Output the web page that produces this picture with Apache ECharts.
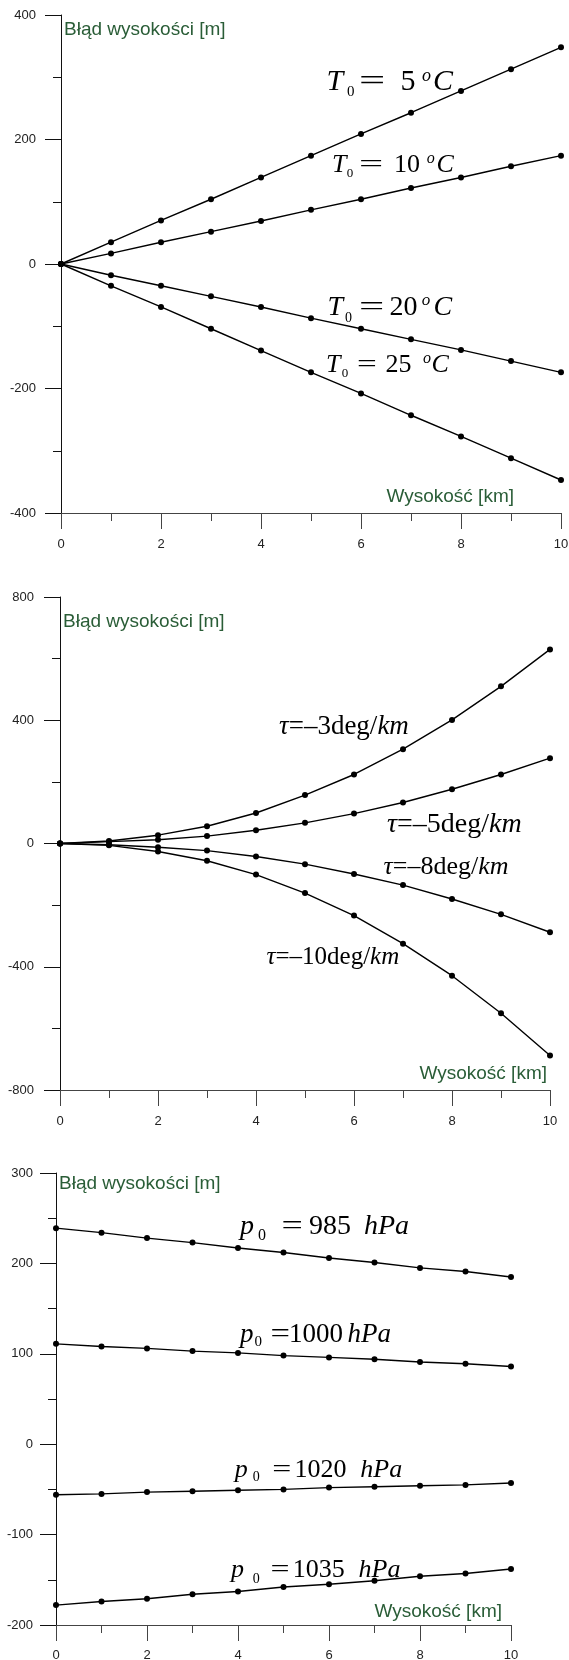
<!DOCTYPE html>
<html>
<head>
<meta charset="utf-8">
<script src="https://cdn.jsdelivr.net/npm/echarts@6/dist/echarts.min.js"></script>
<style>
  html, body { margin: 0; padding: 0; background: #fff; }
  #chart { width: 569px; height: 1660px; }
</style>
</head>
<body>
<div id="chart"></div>
<script>
// wysokość [km]
var km = [0, 1, 2, 3, 4, 5, 6, 7, 8, 9, 10];

// wykres 1 - temperatura T0
var t5 = [0, 35, 70, 104, 139, 174, 209, 243, 278, 313, 348];
var t10 = [0, 17, 35, 52, 69, 87, 104, 122, 139, 157, 174];
var t20 = [0, -18, -35, -52, -69, -87, -104, -121, -138, -156, -174];
var t25 = [0, -35, -69, -104, -139, -174, -208, -243, -277, -312, -347];

// wykres 2 - gradient tau
var tau3 = [0, 8, 27, 56, 99, 157, 224, 306, 401, 510, 630];
var tau5 = [0, 6, 12, 24, 43, 67, 97, 133, 176, 224, 277];
var tau8 = [0, -4, -12, -23, -42, -67, -99, -135, -180, -230, -288];
var tau10 = [0, -6, -26, -56, -101, -161, -234, -325, -429, -551, -688];

// wykres 3 - cisnienie p0
var p985 = [239, 234, 228, 223, 217, 212, 206, 201, 195, 191, 185];
var p1000 = [111, 108, 106, 103, 101, 98, 96, 94, 91, 89, 86];
var p1020 = [-56, -55, -53, -52, -51, -50, -48, -47, -46, -45, -43];
var p1035 = [-178, -174, -171, -166, -163, -158, -155, -151, -146, -143, -138];

// zakresy osi y: [min, max, krok]
var yRange1 = [-400, 400, 200];
var yRange2 = [-800, 800, 400];
var yRange3 = [-200, 300, 100];

var GREEN = '#2a5d37';
var SANS = '"Liberation Sans", Arial, sans-serif';
var SERIF = '"Liberation Serif", "Times New Roman", serif';

var myChart = echarts.init(document.getElementById('chart'));

function xAxisCfg(idx, nameGap, namePad, margin) {
    return {
        type: 'value',
        gridIndex: idx,
        min: 0,
        max: 10,
        interval: 2,
        name: 'Wysokość [km]',
        nameLocation: 'end',
        nameGap: nameGap,
        nameTextStyle: {
            color: GREEN,
            fontSize: 19,
            fontFamily: SANS,
            align: 'right',
            verticalAlign: 'bottom',
            padding: [0, 0, namePad, 0],
        },
        axisLine: { show: true, onZero: false, lineStyle: { color: '#444', width: 1 } },
        axisTick: { show: true, length: 16, lineStyle: { color: '#444' } },
        minorTick: { show: true, splitNumber: 2, length: 8, lineStyle: { color: '#444' } },
        axisLabel: { color: '#222', fontSize: 13, fontFamily: SANS, margin: margin },
        splitLine: { show: false },
        minorSplitLine: { show: false },
    }
}

function yAxisCfg(idx, range, nameGap, margin) {
    return {
        type: 'value',
        gridIndex: idx,
        min: range[0],
        max: range[1],
        interval: range[2],
        name: 'Błąd wysokości [m]',
        nameLocation: 'end',
        nameGap: nameGap,
        nameTextStyle: {
            color: GREEN,
            fontSize: 19,
            fontFamily: SANS,
            align: 'left',
            verticalAlign: 'top',
            padding: [0, 0, 0, 3],
        },
        axisLine: { show: true, onZero: false, lineStyle: { color: '#111', width: 1 } },
        axisTick: { show: true, length: 16, lineStyle: { color: '#111' } },
        minorTick: { show: true, splitNumber: 2, length: 8, lineStyle: { color: '#111' } },
        axisLabel: { color: '#222', fontSize: 13, fontFamily: SANS, margin: margin },
        splitLine: { show: false },
        minorSplitLine: { show: false },
    }
}

function lineSeries(idx, vals) {
    return {
        type: 'line',
        xAxisIndex: idx,
        yAxisIndex: idx,
        data: km.map(function (k, i) { return [k, vals[i]] }),
        symbol: 'circle',
        symbolSize: 6,
        lineStyle: { color: '#000', width: 1.4 },
        itemStyle: { color: '#000' },
        silent: true,
        z: 3,
    }
}

// kawalek opisu (tekst matematyczny)
function piece(text, x, y, size, italic, sx) {
    return {
        type: 'text',
        x: x,
        y: y,
        scaleX: sx || 1,
        silent: true,
        z: 10,
        style: {
            text: text,
            fill: '#000',
            font: (italic ? 'italic ' : '') + size + 'px ' + SERIF,
            align: 'left',
            verticalAlign: 'middle',
        },
    }
}

function tauLabel(num, x, y, size) {
    return {
        type: 'text',
        x: x,
        y: y,
        silent: true,
        z: 10,
        style: {
            text: '{i|τ}{n|=–' + num + 'deg/}{i|km}',
            align: 'left',
            verticalAlign: 'middle',
            rich: {
                i: { font: 'italic ' + size + 'px ' + SERIF, fill: '#000' },
                n: { font: size + 'px ' + SERIF, fill: '#000' },
            },
        },
    }
}

var graphics = [
    // T0 = 5 C
    piece('T', 326.5, 81.7, 30, true),
    piece('0', 347, 91.7, 15),
    piece('=', 359, 81.7, 30, false, 1.55),
    piece('5', 400.5, 81.7, 30),
    piece('o', 422, 76, 18, true),
    piece('C', 433, 81.7, 30, true),
    // T0 = 10 C
    piece('T', 332, 164.7, 26, true),
    piece('0', 346.7, 173.7, 13),
    piece('=', 359, 164.7, 26, false, 1.65),
    piece('10', 394, 164.7, 26),
    piece('o', 426.7, 158.5, 16, true),
    piece('C', 436.5, 164.7, 26, true),
    // T0 = 20 C
    piece('T', 327.5, 307.3, 28, true),
    piece('0', 345, 318, 14),
    piece('=', 359, 307.3, 28, false, 1.6),
    piece('20', 389.5, 307.3, 28),
    piece('o', 421.7, 301, 17, true),
    piece('C', 433.5, 307.3, 28, true),
    // T0 = 25 C
    piece('T', 326, 364.7, 26, true),
    piece('0', 341.7, 373.7, 13),
    piece('=', 357, 364.7, 26, false, 1.35),
    piece('25', 385.5, 364.7, 26),
    piece('o', 423, 359, 16, true),
    piece('C', 431.5, 364.7, 26, true),

    tauLabel('3', 279, 726.5, 27),
    tauLabel('5', 387, 824.5, 28),
    tauLabel('8', 383.5, 867.5, 26),
    tauLabel('10', 266.5, 957.5, 25),

    // p0 = 985 hPa
    piece('p', 240, 1227, 28, true),
    piece('0', 258, 1236.2, 16),
    piece('=', 281.5, 1227, 28, false, 1.35),
    piece('985', 309, 1227, 28),
    piece('hPa', 364, 1227, 28, true),
    // p0 = 1000 hPa
    piece('p', 240, 1334.7, 27, true),
    piece('0', 254.6, 1341.6, 15),
    piece('=', 270.5, 1334.7, 27, false, 1.28),
    piece('1000', 289, 1334.7, 27),
    piece('hPa', 347.5, 1334.7, 27, true),
    // p0 = 1020 hPa
    piece('p', 234.7, 1469.7, 26, true),
    piece('0', 252.8, 1477.3, 14),
    piece('=', 272.2, 1469.7, 26, false, 1.3),
    piece('1020', 294.5, 1469.7, 26),
    piece('hPa', 360.3, 1469.7, 26, true),
    // p0 = 1035 hPa
    piece('p', 231, 1570, 26, true),
    piece('0', 252.8, 1579.6, 14),
    piece('=', 270.5, 1570, 26, false, 1.3),
    piece('1035', 292.7, 1570, 26),
    piece('hPa', 358.5, 1570, 26, true),
]

var option = {
    animation: false,
    backgroundColor: '#fff',
    grid: [
        { left: 61, top: 15, width: 500, height: 498, outerBoundsMode: 'none' },
        { left: 60, top: 597, width: 490, height: 493, outerBoundsMode: 'none' },
        { left: 56, top: 1173, width: 455, height: 452, outerBoundsMode: 'none' },
    ],
    xAxis: [
        xAxisCfg(0, -47, 7, 25),
        xAxisCfg(1, -3, 7, 25),
        xAxisCfg(2, -9, 4, 24),
    ],
    yAxis: [
        yAxisCfg(0, yRange1, -5, 25),
        yAxisCfg(1, yRange2, -15, 26),
        yAxisCfg(2, yRange3, -1, 23),
    ],
    series: [
        lineSeries(0, t5),
        lineSeries(0, t10),
        lineSeries(0, t20),
        lineSeries(0, t25),
        lineSeries(1, tau3),
        lineSeries(1, tau5),
        lineSeries(1, tau8),
        lineSeries(1, tau10),
        lineSeries(2, p985),
        lineSeries(2, p1000),
        lineSeries(2, p1020),
        lineSeries(2, p1035),
    ],
    graphic: graphics,
}

myChart.setOption(option)
</script>
</body>
</html>
